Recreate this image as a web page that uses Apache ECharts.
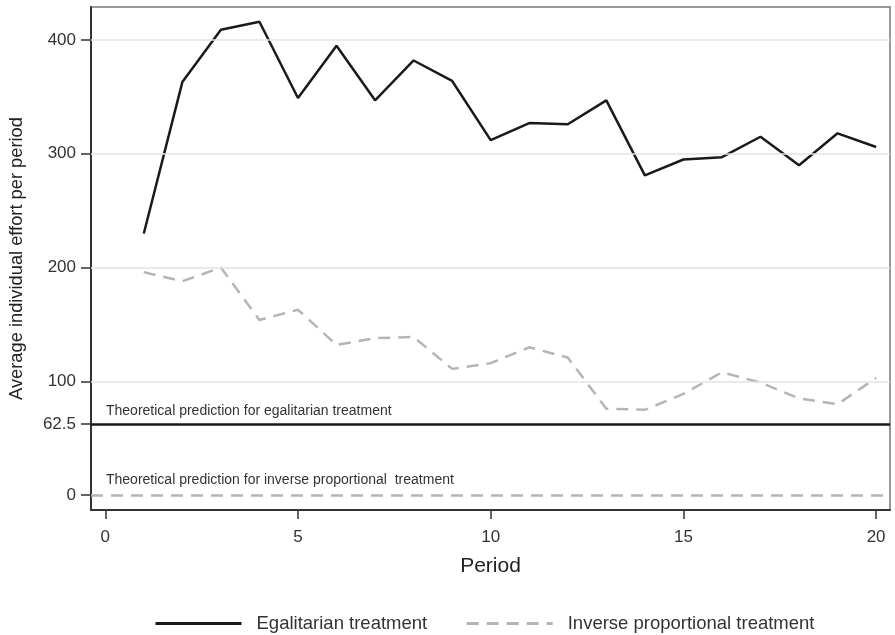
<!DOCTYPE html>
<html>
<head>
<meta charset="utf-8">
<script src="https://cdn.jsdelivr.net/npm/echarts@6/dist/echarts.min.js"></script>
<style>html,body{margin:0;padding:0;background:#fff}#c{width:895px;height:635px}</style>
</head>
<body>
<div id="c"></div>
<script>
const periods = [1,2,3,4,5,6,7,8,9,10,11,12,13,14,15,16,17,18,19,20];
const egalitarian = [230,363,409,416,349,395,347,382,364,312,327,326,347,281,295,297,315,290,318,306];
const inverseProp = [196,188,200,154,163,132,138,139,111,116,130,121,76,75,89,108,99,85,80,103];
const yTicks = [0,62.5,100,200,300,400];
const yGrid = [100,200,300,400];
const xTicks = [0,5,10,15,20];
const egalPrediction = 62.5;
const inversePrediction = 0;
const egalLabel = 'Theoretical prediction for egalitarian treatment';
const invLabel = 'Theoretical prediction for inverse proportional  treatment';

const font = 'Liberation Sans, Arial, sans-serif';
const chart = echarts.init(document.getElementById('c'));
const pair = (xs, ys) => xs.map((x,i)=>[x, ys[i]]);

chart.setOption({
  animation: false,
  textStyle: {fontFamily: font},
  grid: {left: 91, top: 7, right: 5, bottom: 125, show: true, borderColor: '#777', borderWidth: 1.5, backgroundColor: 'transparent'},
  xAxis: {
    type: 'value', min: -0.37, max: 20.36,
    name: 'Period', nameLocation: 'middle', nameGap: 46,
    nameTextStyle: {fontSize: 21, color: '#222', fontFamily: font},
    axisLine: {show: true, onZero: false, lineStyle: {color: '#333', width: 2}},
    axisTick: {show: true, customValues: xTicks, length: 9, lineStyle: {color: '#333', width: 1.5}},
    axisLabel: {customValues: xTicks, fontSize: 17, color: '#333', margin: 19},
    splitLine: {show: false}
  },
  yAxis: {
    type: 'value', min: -13, max: 429,
    name: 'Average individual effort per period', nameLocation: 'middle', nameGap: 65,
    nameTextStyle: {fontSize: 18.3, color: '#222', fontFamily: font},
    axisLine: {show: true, onZero: false, lineStyle: {color: '#333', width: 2}},
    axisTick: {show: true, customValues: yTicks, length: 10, lineStyle: {color: '#333', width: 1.5}},
    axisLabel: {customValues: yTicks, fontSize: 17, color: '#333', margin: 15},
    splitLine: {show: false}
  },
  legend: {
    data: ['Egalitarian treatment', 'Inverse proportional treatment'],
    left: 149, top: 609, itemWidth: 86, itemHeight: 14, itemGap: 38,
    itemStyle: {opacity: 0},
    lineStyle: {width: 3},
    textStyle: {fontSize: 18.5, color: '#333', fontFamily: font, padding: [0, 0, 0, 10]}
  },
  series: [
    {
      name: 'grid', type: 'line', data: [], z: 1, silent: true,
      markLine: {
        silent: true, symbol: 'none', animation: false,
        lineStyle: {color: '#e3e3e3', width: 1.5, type: 'solid'},
        label: {show: false},
        data: yGrid.map(v => ({yAxis: v}))
      }
    },
    {
      name: 'refs', type: 'line', data: [], z: 2, silent: true,
      markLine: {
        silent: true, symbol: 'none', animation: false,
        data: [
          {yAxis: egalPrediction, lineStyle: {color: '#1a1a1a', width: 2.5, type: 'solid'},
           label: {show: true, position: 'insideStartTop', formatter: egalLabel, fontSize: 14, color: '#333', distance: [15, 6], fontFamily: font}},
          {yAxis: inversePrediction, lineStyle: {color: '#b5b5b5', width: 2.5, type: [12, 8]},
           label: {show: true, position: 'insideStartTop', formatter: invLabel, fontSize: 14, color: '#333', distance: [15, 8], fontFamily: font}}
        ]
      }
    },
    {
      name: 'Egalitarian treatment', type: 'line', z: 3,
      data: pair(periods, egalitarian), showSymbol: false, symbol: 'none',
      lineStyle: {color: '#1a1a1a', width: 2.5},
      itemStyle: {color: '#1a1a1a'}
    },
    {
      name: 'Inverse proportional treatment', type: 'line', z: 3,
      data: pair(periods, inverseProp), showSymbol: false, symbol: 'none',
      lineStyle: {color: '#b5b5b5', width: 2.5, type: [12, 8]},
      itemStyle: {color: '#b5b5b5'}
    }
  ]
});
</script>
</body>
</html>
